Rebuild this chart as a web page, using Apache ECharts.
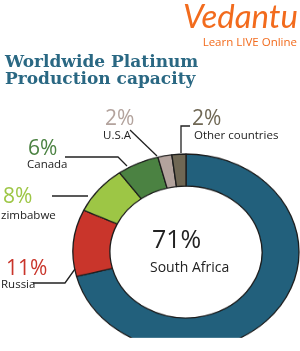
<!DOCTYPE html>
<html>
<head>
<meta charset="utf-8">
<script src="https://cdn.jsdelivr.net/npm/echarts@6/dist/echarts.min.js"></script>
<style>
html,body{margin:0;padding:0;background:#fff;}
#wrap{position:relative;width:300px;height:351px;overflow:hidden;}
#pie{position:absolute;left:0;top:0;width:300px;height:351px;transform-origin:186px 252px;transform:scaleY(0.867);}
#txt{position:absolute;left:0;top:0;width:300px;height:351px;pointer-events:none;}
</style>
</head>
<body>
<div id="wrap"><div id="pie"></div><div id="txt"></div></div>
<script>
// ---- data ----
var countries = ['South Africa', 'Russia', 'zimbabwe', 'Canada', 'U.S.A', 'Other countries'];
var shares = [71, 11, 8, 6, 2, 2];
var colors = ['#22607c', '#c9352b', '#9dc645', '#4b8242', '#b3a39d', '#6f6754'];
var titleLines = ['Worldwide Platinum', 'Production capacity'];
var brand = 'Vedantu';
var brandTag = 'Learn LIVE Online';

// ---- pie (drawn in its own layer, squashed vertically into an ellipse) ----
var pie = echarts.init(document.getElementById('pie'), null, {renderer: 'canvas'});
pie.setOption({
  animation: false,
  series: [{
    type: 'pie',
    center: [186, 252],
    radius: [76, 113],
    startAngle: 90,
    clockwise: true,
    label: {show: false},
    labelLine: {show: false},
    emphasis: {disabled: true},
    itemStyle: {borderColor: '#1c1c1c', borderWidth: 1.3},
    data: countries.map(function (c, i) {
      return {name: c, value: shares[i], itemStyle: {color: colors[i]}};
    })
  }]
});

// ---- text layer ----
var txt = echarts.init(document.getElementById('txt'), null, {renderer: 'canvas'});
// label layout: [pctX, pctBaseline, nameX, nameBaseline, leader polyline]
var layout = [
  {px: 152, pb: 248, nx: 150, nb: 272, pfs: 25, nfs: 14, pcol: '#222222', ncol: '#222222', line: null},
  {px: 6, pb: 275, nx: 1, nb: 288, line: [[33, 283], [65, 283], [75, 269]]},
  {px: 3, pb: 203, nx: 1, nb: 219, line: [[52, 196], [88, 196]]},
  {px: 28, pb: 155, nx: 27, nb: 168, line: [[65, 157], [118, 157], [127, 166]]},
  {px: 105, pb: 125, nx: 103, nb: 139, line: [[130, 130], [157, 156]]},
  {px: 192, pb: 125, nx: 194, nb: 139, line: [[190, 126], [181, 126], [181, 153]]}
];
var els = [];
function addText(str, x, baseline, fs, font, col, align, weight) {
  els.push({
    type: 'text', silent: true,
    style: {
      text: str, x: x, y: baseline - 0.3 * fs,
      font: (weight || 'normal') + ' ' + fs + 'px ' + font,
      fill: col, textAlign: align || 'left', textVerticalAlign: 'middle'
    }
  });
}
countries.forEach(function (c, i) {
  var L = layout[i];
  var pfs = L.pfs || 21, nfs = L.nfs || 11.5;
  addText(shares[i] + '%', L.px, L.pb, pfs, '"Open Sans", sans-serif', L.pcol || colors[i], 'left');
  addText(c, L.nx, L.nb, nfs, '"Open Sans", sans-serif', L.ncol || '#222222', 'left');
  if (L.line) {
    els.push({type: 'polyline', silent: true, shape: {points: L.line},
      style: {stroke: '#222222', lineWidth: 1.3, fill: null}});
  }
});
addText(titleLines[0], 5, 68, 17, '"DejaVu Serif", serif', '#2a6883', 'left', 'bold');
addText(titleLines[1], 5, 85, 17, '"DejaVu Serif", serif', '#2a6883', 'left', 'bold');
addText(brand, 298, 27, 33, '"Lato", sans-serif', '#f26b1d', 'right', 'italic');
addText(brandTag, 297, 46, 11.5, '"Open Sans", sans-serif', '#f26b1d', 'right');

txt.setOption({animation: false, graphic: {elements: els}});
</script>
</body>
</html>
